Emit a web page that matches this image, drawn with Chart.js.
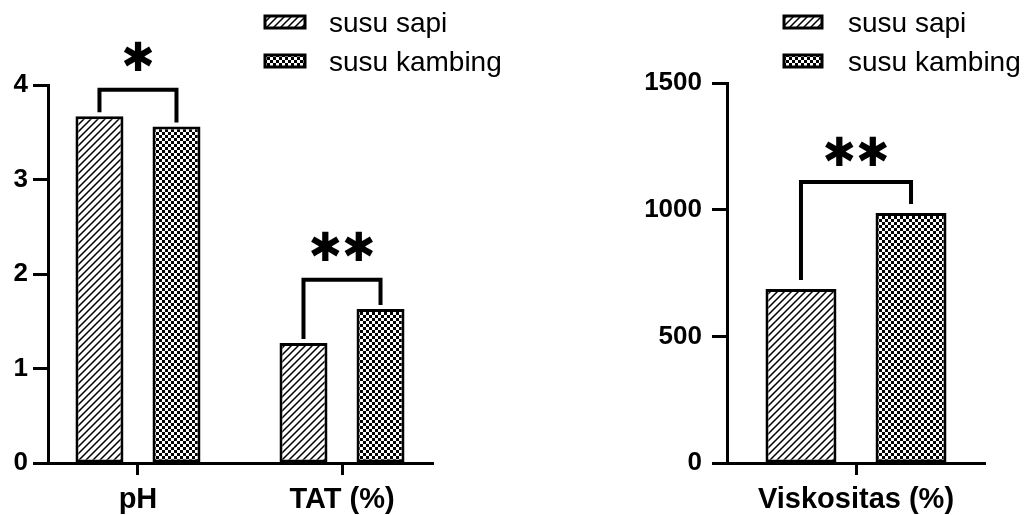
<!DOCTYPE html>
<html>
<head>
<meta charset="utf-8">
<script src="https://cdn.jsdelivr.net/npm/chart.js@4.4.1/dist/chart.umd.min.js"></script>
<style>
    html, body { margin: 0; padding: 0; background: #fff; }
    body { width: 1024px; height: 515px; position: relative; overflow: hidden; }
    .panel { position: absolute; top: 0; height: 515px; }
    #panel-kiri  { left: 0;     width: 530px; }
    #panel-kanan { left: 600px; width: 424px; }
</style>
</head>
<body>
<div class="panel" id="panel-kiri"><canvas id="grafik-kiri"></canvas></div>
<div class="panel" id="panel-kanan"><canvas id="grafik-kanan"></canvas></div>
<script>
// ===== DATA =====
const labelSeri      = ['susu sapi', 'susu kambing'];

const kategoriKiri   = ['pH', 'TAT (%)'];
const sapiKiri       = [3.67, 1.27];
const kambingKiri    = [3.56, 1.63];
const ticksKiri      = [0, 1, 2, 3, 4];
const sigKiri        = ['*', '**'];
const sigPuncakKiri  = [3.95, 1.94];

const kategoriKanan  = ['Viskositas (%)'];
const sapiKanan      = [687];
const kambingKanan   = [987];
const ticksKanan     = [0, 500, 1000, 1500];
const sigKanan       = ['**'];
const sigPuncakKanan = [1109];

// ===== HELPERS =====
const FONT = '"Liberation Sans", Arial, sans-serif';

function polaGaris() {
    const c = document.createElement('canvas');
    c.width = 7; c.height = 7;
    const g = c.getContext('2d');
    g.fillStyle = '#fff'; g.fillRect(0, 0, 7, 7);
    g.strokeStyle = '#000'; g.lineWidth = 1.5;
    g.beginPath();
    [0, 7, 14].forEach(k => { g.moveTo(k + 1, -1); g.lineTo(-1, k + 1); });
    g.stroke();
    return g.createPattern(c, 'repeat');
}

function polaKotak() {
    const c = document.createElement('canvas');
    c.width = 6; c.height = 6;
    const g = c.getContext('2d');
    g.fillStyle = '#fff'; g.fillRect(0, 0, 6, 6);
    g.fillStyle = '#000';
    g.fillRect(0, 0, 3, 3);
    g.fillRect(3, 3, 3, 3);
    return g.createPattern(c, 'repeat');
}

// ===== PLUGIN: legenda dengan pola =====
const pluginLegenda = {
    id: 'legendaPola',
    afterDraw(chart, args, opts) {
        const ctx = chart.ctx;
        ctx.save();
        chart.data.datasets.forEach((ds, i) => {
            const yc = opts.y[i];
            const yk = yc - 2;
            ctx.fillStyle = ds.backgroundColor;
            ctx.fillRect(opts.x, yk - 6, opts.lebar, 12);
            ctx.strokeStyle = '#000'; ctx.lineWidth = 3;
            ctx.strokeRect(opts.x, yk - 6, opts.lebar, 12);
            ctx.fillStyle = '#000';
            ctx.font = '28px ' + FONT;
            ctx.textAlign = 'left'; ctx.textBaseline = 'middle';
            ctx.fillText(ds.label, opts.xTeks, yc);
        });
        ctx.restore();
    }
};

// ===== PLUGIN: tanda signifikansi =====
const pluginSig = {
    id: 'tandaSig',
    afterDatasetsDraw(chart, args, opts) {
        const ctx = chart.ctx;
        const y  = chart.scales.y;
        const m0 = chart.getDatasetMeta(0).data;
        const m1 = chart.getDatasetMeta(1).data;
        ctx.save();
        ctx.strokeStyle = '#000'; ctx.lineWidth = 4;
        ctx.lineJoin = 'miter'; ctx.lineCap = 'butt';
        opts.puncak.forEach((p, i) => {
            const a = m0[i], b = m1[i];
            const yt = y.getPixelForValue(p);
            ctx.beginPath();
            ctx.moveTo(a.x, a.y - opts.celah);
            ctx.lineTo(a.x, yt);
            ctx.lineTo(b.x, yt);
            ctx.lineTo(b.x, b.y - opts.celah);
            ctx.stroke();
            ctx.fillStyle = '#000';
            ctx.font = 'bold 40px "DejaVu Sans", sans-serif';
            ctx.textAlign = 'center'; ctx.textBaseline = 'middle';
            ctx.fillText(opts.label[i].replace(/\*/g, '\u2731'), (a.x + b.x) / 2, yt - opts.jarak);
        });
        ctx.restore();
    }
};

// ===== SUMBU =====
function sumbuY(ticks, lebar, padding) {
    return {
        min: ticks[0],
        max: ticks[ticks.length - 1],
        afterFit: s => { s.width = lebar; },
        ticks: { stepSize: ticks[1] - ticks[0], color: '#000', padding: padding,
                 callback: v => String(v),
                 font: { family: FONT, size: 26, weight: 'bold' } },
        grid:   { drawOnChartArea: false, tickLength: 15, tickWidth: 3, tickColor: '#000' },
        border: { color: '#000', width: 3 }
    };
}

const gridX = { drawOnChartArea: false, offset: false, tickLength: 12, tickWidth: 3, tickColor: '#000' };
const fontX = { family: FONT, size: 29, weight: 'bold', lineHeight: 1 };

function datasetBar(label, data, pola, catPct, barPct) {
    return {
        label, data,
        backgroundColor: pola,
        borderColor: '#000',
        borderWidth: 3,
        borderSkipped: false,
        categoryPercentage: catPct,
        barPercentage: barPct
    };
}

// ===== GRAFIK KIRI — pH dan TAT =====
new Chart(document.getElementById('grafik-kiri'), {
    type: 'bar',
    data: {
        datasets: [
            datasetBar(labelSeri[0], sapiKiri.map((v, i) => ({ x: i, y: v })), polaGaris(), 0.755, 0.623),
            datasetBar(labelSeri[1], kambingKiri.map((v, i) => ({ x: i, y: v })), polaKotak(), 0.755, 0.623)
        ]
    },
    options: {
        responsive: true,
        maintainAspectRatio: false,
        animation: false,
        layout: { padding: { left: 0, right: 97, top: 85, bottom: 0 } },
        plugins: {
            legend:  { display: false },
            tooltip: { enabled: false },
            legendaPola: { x: 265, lebar: 40, xTeks: 329, y: [24, 63] },
            tandaSig:    { puncak: sigPuncakKiri, label: sigKiri, celah: 4, jarak: 29 }
        },
        scales: {
            x: {
                type: 'linear', min: -0.441, max: 1.446, offset: false,
                afterBuildTicks: s => { s.ticks = kategoriKiri.map((_, i) => ({ value: i })); },
                afterFit: s => { s.height = 52; },
                ticks: { callback: v => kategoriKiri[v], color: '#000', padding: 10,
                         maxRotation: 0, autoSkip: false, font: fontX },
                grid: gridX,
                border: { color: '#000', width: 3 }
            },
            y: sumbuY(ticksKiri, 48, 5)
        }
    },
    plugins: [pluginLegenda, pluginSig]
});

// ===== GRAFIK KANAN — Viskositas =====
new Chart(document.getElementById('grafik-kanan'), {
    type: 'bar',
    data: {
        labels: kategoriKanan,
        datasets: [
            datasetBar(labelSeri[0], sapiKanan, polaGaris(), 0.853, 0.645),
            datasetBar(labelSeri[1], kambingKanan, polaKotak(), 0.853, 0.645)
        ]
    },
    options: {
        responsive: true,
        maintainAspectRatio: false,
        animation: false,
        layout: { padding: { left: 0, right: 39, top: 83, bottom: 0 } },
        plugins: {
            legend:  { display: false },
            tooltip: { enabled: false },
            legendaPola: { x: 184, lebar: 38, xTeks: 248, y: [24, 63] },
            tandaSig:    { puncak: sigPuncakKanan, label: sigKanan, celah: 9, jarak: 26 }
        },
        scales: {
            x: {
                afterFit: s => { s.height = 52; },
                ticks: { color: '#000', padding: 10, maxRotation: 0, font: fontX },
                grid: gridX,
                border: { color: '#000', width: 3 }
            },
            y: sumbuY(ticksKanan, 127, 10)
        }
    },
    plugins: [pluginLegenda, pluginSig]
});
</script>
</body>
</html>
